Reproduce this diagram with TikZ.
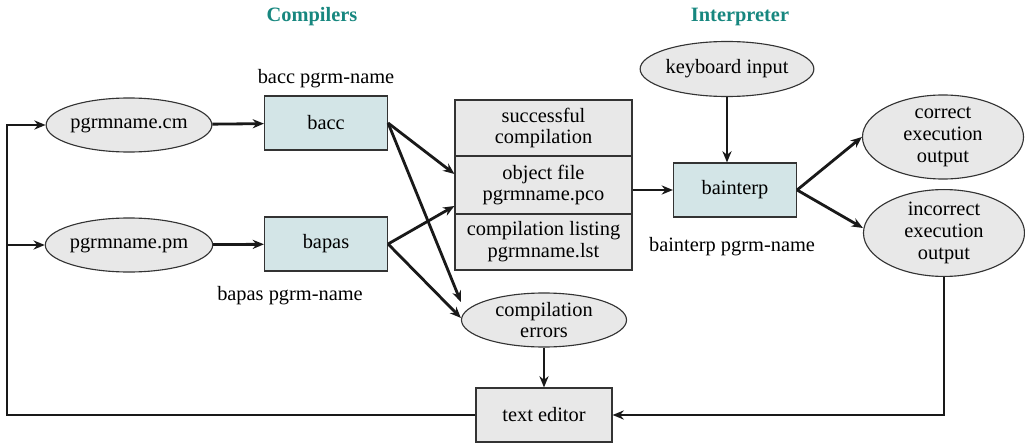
\documentclass[tikz,border=0pt]{standalone}
\usepackage{fontspec}
\setmainfont{Liberation Serif}
\usetikzlibrary{positioning,arrows.meta,shapes.geometric,calc}
\definecolor{boxblue}{HTML}{D3E5E7}
\definecolor{ovalgray}{HTML}{E8E8E8}
\definecolor{titleteal}{HTML}{17877F}

\begin{document}
\begin{tikzpicture}[x=0.025cm, y=-0.025cm,
    every node/.style={font=\fontsize{14.5}{15.5}\selectfont},
    prog/.style={draw=black!80, fill=boxblue, rectangle, minimum width=3.075cm, minimum height=1.35cm, align=center, line width=0.8pt},
    file/.style={draw=black!80, fill=ovalgray, ellipse, inner sep=0pt, minimum width=4.075cm, minimum height=1.35cm, align=center, line width=0.8pt},
    part/.style={draw=black!80, fill=ovalgray, rectangle, minimum width=4.425cm, align=center, line width=0.8pt},
    title/.style={font=\fontsize{14.5}{15.5}\selectfont\bfseries, text=titleteal},
    arrow/.style={-{Stealth[length=8pt, width=6.5pt]}, line width=2pt, draw=black!90}
]
\useasboundingbox (0,0) rectangle (1025,446);

% --- Titulos ---
\node[title] (tcomp) at (312,17) {Compilers};
\node[title] (tint) at (740,17) {Interpreter};

% --- Programas fuente y compiladores ---
\node[file] (cm) at (129,125) {pgrmname.cm};
\node[file] (pm) at (129,245) {pgrmname.pm};
\node[prog] (bacc) at (326,123) {bacc};
\node[prog] (bapas) at (326,244) {bapas};
\node (lbacc) at (326,79) {bacc pgrm-name};
\node (lbapas) at (290,296) {bapas pgrm-name};

% --- Resultados de la compilacion ---
\node[part, minimum height=1.4cm] (succ) at (543.5,128) {successful\\compilation};
\node[part, minimum height=1.45cm] (obj) at (543.5,185) {object file\\pgrmname.pco};
\node[part, minimum height=1.4cm] (lst) at (543.5,242) {compilation listing\\pgrmname.lst};
\node[file, minimum width=4.125cm] (errors) at (544,320) {compilation\\errors};

% --- Interprete ---
\node[file, minimum width=4.1cm, minimum height=1.375cm] (kbd) at (727,69) {keyboard input};
\node[prog] (bint) at (735,190) {bainterp};
\node (lbint) at (732,247) {bainterp pgrm-name};
\node[file, minimum width=4.025cm, minimum height=2cm] (okout) at (943,137) {correct\\execution\\output};
\node[file, minimum width=4.025cm, minimum height=2cm] (badout) at (944,233) {incorrect\\execution\\output};

% --- Editor ---
\node[part, minimum width=3.4cm, minimum height=1.35cm] (editor) at (544,415) {text editor};
\coordinate (loop) at (7,125);
\coordinate (branch) at (7,245);

% --- Conexiones: compilacion ---
\draw[arrow] (cm) -- (bacc);
\draw[arrow] (pm) -- (bapas);
\draw[arrow] (bacc.east) -- ($(obj.west)+(0,-11)$);
\draw[arrow] (bacc.east) -- ($(errors.west)+(0,-18)$);
\draw[arrow] (bapas.east) -- ($(obj.west)+(0,21)$);
\draw[arrow] (bapas.east) -- ($(errors.west)+(0,-2)$);

% --- Conexiones: interpretacion ---
\draw[arrow] (obj.east |- bint.west) -- (bint.west);
\draw[arrow] (kbd.south) -- (kbd.south |- bint.north);
\draw[arrow] (bint.east) -- (okout.west);
\draw[arrow] (bint.east) -- ($(badout.west)+(0,-5)$);

% --- Lazo de correccion ---
\draw[arrow] (errors.south) -- (editor.north);
\draw[arrow] (badout.south) |- (editor.east);
\draw[arrow] (editor.west) -| (loop) -- (cm.west);
\draw[arrow] (branch) -- (pm.west);

\end{tikzpicture}
\end{document}
